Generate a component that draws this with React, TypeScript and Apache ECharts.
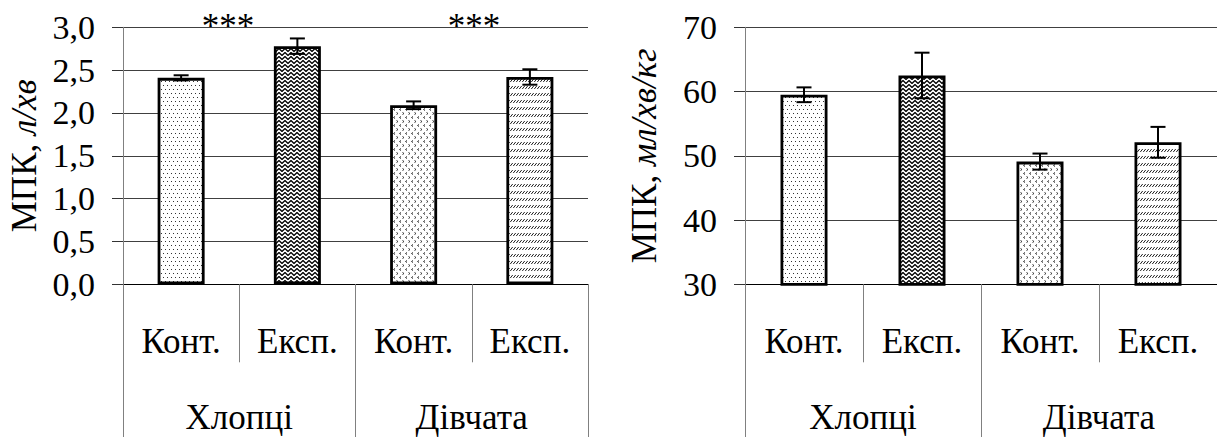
import React, { useEffect, useRef } from "react";
import * as echarts from "echarts";

// ---- data ----
const categories = ["Конт.", "Експ.", "Конт.", "Експ."];
const groups = ["Хлопці", "Дівчата"];
const absValues = [2.41, 2.78, 2.09, 2.42];
const absErrors = [0.03, 0.09, 0.045, 0.09];
const relValues = [59.5, 62.5, 49.1, 52.1];
const relErrors = [1.15, 3.55, 1.25, 2.4];
const absAxis = { min: 0, max: 3, interval: 0.5 };
const relAxis = { min: 30, max: 70, interval: 10 };
const absTitle = ["МПК, ", "л/хв"];
const relTitle = ["МПК, ", "мл/хв/кг"];
const starLabels = ["***", "***"];

const FONT = "Liberation Serif";

function makeCanvas(w: number, h: number, draw: (ctx: CanvasRenderingContext2D) => void) {
  const c = document.createElement("canvas");
  c.width = w;
  c.height = h;
  const ctx = c.getContext("2d")!;
  ctx.fillStyle = "#fff";
  ctx.fillRect(0, 0, w, h);
  draw(ctx);
  return { image: c, repeat: "repeat", imageWidth: w, imageHeight: h } as any;
}

function makePatterns() {
  const dots = makeCanvas(4, 8, (ctx) => {
    ctx.fillStyle = "#333";
    ctx.fillRect(1, 1, 1, 1);
    ctx.fillRect(3, 5, 1, 1);
  });
  const wave = makeCanvas(6, 4, (ctx) => {
    ctx.strokeStyle = "#000";
    ctx.lineWidth = 1.3;
    ctx.beginPath();
    ctx.moveTo(-1, 4);
    ctx.lineTo(0, 3.5);
    ctx.lineTo(3, 0.5);
    ctx.lineTo(6, 3.5);
    ctx.lineTo(7, 4);
    ctx.stroke();
  });
  const chevrons = makeCanvas(6, 8, (ctx) => {
    ctx.strokeStyle = "#333";
    ctx.lineWidth = 1;
    ctx.beginPath();
    ctx.moveTo(0.5, 0.5);
    ctx.lineTo(2, 1.5);
    ctx.lineTo(0.5, 2.5);
    ctx.moveTo(5, 4.5);
    ctx.lineTo(3.5, 5.5);
    ctx.lineTo(5, 6.5);
    ctx.stroke();
  });
  const slashes = makeCanvas(3, 7, (ctx) => {
    ctx.strokeStyle = "#222";
    ctx.lineWidth = 1;
    ctx.beginPath();
    ctx.moveTo(0.3, 5);
    ctx.lineTo(2.7, 2);
    ctx.stroke();
  });
  return [dots, wave, chevrons, slashes];
}

function errorRender(params: any, api: any) {
  const x = api.value(0);
  const lo = api.coord([x, api.value(1)]);
  const hi = api.coord([x, api.value(2)]);
  const cap = 7.5;
  const st = { stroke: "#000", lineWidth: 2 };
  return {
    type: "group",
    children: [
      { type: "line", shape: { x1: hi[0], y1: hi[1], x2: lo[0], y2: lo[1] }, style: st },
      { type: "line", shape: { x1: hi[0] - cap, y1: hi[1], x2: hi[0] + cap, y2: hi[1] }, style: st },
      { type: "line", shape: { x1: lo[0] - cap, y1: lo[1], x2: lo[0] + cap, y2: lo[1] }, style: st },
    ],
  };
}

function buildOption() {
  const patterns = makePatterns();
  const gridTop = 27.3;
  const gridH = 257;
  const grids = [
    { left: 123, top: gridTop, width: 465, height: gridH },
    { left: 123, top: gridTop, width: 465, height: gridH },
    { left: 745, top: gridTop, width: 474, height: gridH },
    { left: 745, top: gridTop, width: 474, height: gridH },
  ];
  const lbl = (size: number, extra: any = {}) => ({
    fontSize: size,
    fontFamily: FONT,
    color: "#000",
    ...extra,
  });
  const catAxis = (gi: number) => ({
    gridIndex: gi,
    type: "category",
    data: categories,
    axisLine: { show: true, lineStyle: { color: "#000", width: 1 } },
    axisTick: { show: true, interval: 0, length: 78, lineStyle: { color: "#808080", width: 1 } },
    axisLabel: lbl(35, { interval: 0, margin: 57, verticalAlign: "middle" }),
    splitLine: { show: false },
  });
  const grpAxis = (gi: number) => ({
    gridIndex: gi,
    type: "category",
    data: groups,
    axisLine: { show: false },
    axisTick: { show: true, interval: 0, length: 153, lineStyle: { color: "#808080", width: 1 } },
    axisLabel: lbl(35, { interval: 0, margin: 133, verticalAlign: "middle" }),
    splitLine: { show: false },
  });
  const valAxis = (gi: number, ax: any, title: string[], gap: number, fmt: (v: number) => string) => ({
    gridIndex: gi,
    type: "value",
    min: ax.min,
    max: ax.max,
    interval: ax.interval,
    axisLine: { show: true, lineStyle: { color: "#808080", width: 1 } },
    axisTick: { show: true, length: 11, lineStyle: { color: "#333", width: 1 } },
    splitLine: { show: true, lineStyle: { color: "#404040", width: 1 } },
    axisLabel: lbl(34, { margin: 28, formatter: fmt }),
    name: `{a|${title[0]}}{b|${title[1]}}`,
    nameLocation: "middle",
    nameGap: gap,
    nameRotate: 90,
    nameTextStyle: {
      fontFamily: FONT,
      fontSize: 35,
      rich: {
        a: { fontSize: 35, fontFamily: FONT, color: "#000" },
        b: { fontSize: 35, fontFamily: FONT, fontStyle: "italic", color: "#000" },
      },
    },
  });
  const hiddenVal = (gi: number, ax: any) => ({ gridIndex: gi, type: "value", min: ax.min, max: ax.max, show: false });

  const barSeries = (xi: number, yi: number, vals: number[]) => ({
    type: "bar",
    xAxisIndex: xi,
    yAxisIndex: yi,
    barWidth: 47,
    clip: true,
    z: 2,
    itemStyle: { borderColor: "#000", borderWidth: 2.8 },
    data: vals.map((v, i) => ({ value: v, itemStyle: { color: patterns[i] } })),
  });
  const errSeries = (xi: number, yi: number, vals: number[], errs: number[]) => ({
    type: "custom",
    xAxisIndex: xi,
    yAxisIndex: yi,
    z: 5,
    renderItem: errorRender,
    encode: { x: 0, y: [1, 2] },
    data: vals.map((v, i) => [i, v - errs[i], v + errs[i]]),
  });

  const starStyle = (t: string) => ({
    text: t,
    fontSize: 35,
    fontFamily: FONT,
    fill: "#000",
    align: "center",
    verticalAlign: "middle",
  });

  return {
    animation: false,
    backgroundColor: "#fff",
    textStyle: { fontFamily: FONT },
    grid: grids,
    xAxis: [catAxis(0), grpAxis(1), catAxis(2), grpAxis(3)],
    yAxis: [
      valAxis(0, absAxis, absTitle, 81, (v: number) => v.toFixed(1).replace(".", ",")),
      hiddenVal(1, absAxis),
      valAxis(2, relAxis, relTitle, 83, (v: number) => String(v)),
      hiddenVal(3, relAxis),
    ],
    series: [
      barSeries(0, 0, absValues),
      errSeries(0, 0, absValues, absErrors),
      barSeries(2, 2, relValues),
      errSeries(2, 2, relValues, relErrors),
    ],
    graphic: [
      { type: "text", x: 228, y: 26, style: starStyle(starLabels[0]) },
      { type: "text", x: 474, y: 26, style: starStyle(starLabels[1]) },
    ],
  };
}

export default function App() {
  const ref = useRef<HTMLDivElement>(null);
  useEffect(() => {
    const chart = echarts.init(ref.current!, null, { renderer: "svg" });
    chart.setOption(buildOption() as any);
    return () => chart.dispose();
  }, []);
  return <div ref={ref} style={{ position: "absolute", left: 0, top: 0, width: 1217, height: 437, background: "#fff" }} />;
}
